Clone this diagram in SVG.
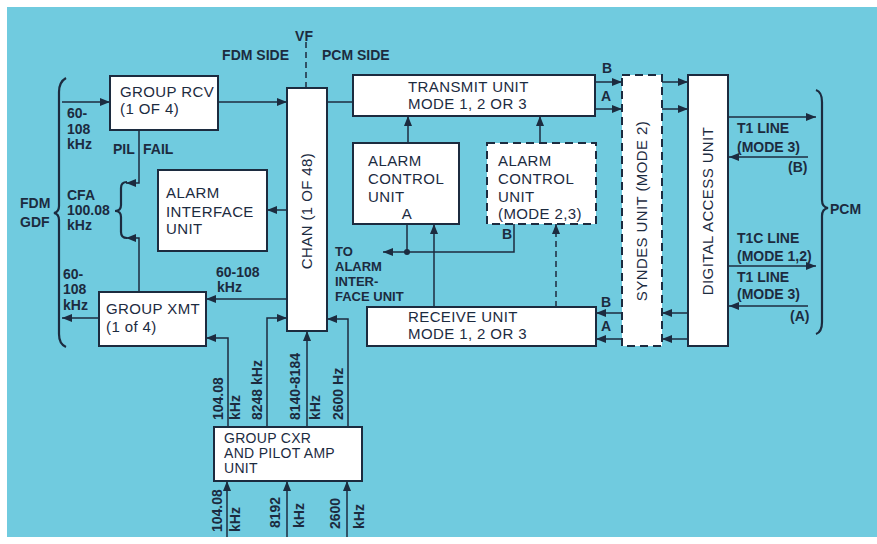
<svg xmlns="http://www.w3.org/2000/svg" width="877" height="544" viewBox="0 0 877 544">
<style>
.bg{fill:#70CBDF}
.box{fill:#fff;stroke:#1c2b3f;stroke-width:2}
.dbox{fill:#fff;stroke:#1c2b3f;stroke-width:2;stroke-dasharray:8 5}
.ln{fill:none;stroke:#1c2b3f;stroke-width:1.5}
.dl{fill:none;stroke:#1c2b3f;stroke-width:1.5;stroke-dasharray:6 4}
.br{fill:none;stroke:#1c2b3f;stroke-width:2.2}
text{font-family:"Liberation Sans",Arial,sans-serif;fill:#1c2b3f}
.t{font-size:15px;letter-spacing:0.4px}
.s{font-size:14px;letter-spacing:0.3px}
.l{font-size:14px;font-weight:bold}
.m{font-size:13px;font-weight:bold}
</style>
<defs>
<marker id="ar" markerWidth="10" markerHeight="8" refX="10" refY="4" orient="auto" markerUnits="userSpaceOnUse">
<path d="M0,0 L10,4 L0,8 Z" fill="#1c2b3f"/>
</marker>
</defs>
<rect x="0" y="0" width="877" height="544" fill="#fff"/>
<rect class="bg" x="7" y="7" width="870" height="530"/>

<g id="connectors">
<path class="dl" d="M306 42 V88"/>
<path class="ln" d="M62 102 H110" marker-end="url(#ar)"/>
<path class="ln" d="M218 102 H287" marker-end="url(#ar)"/>
<path class="ln" d="M328 102 H353"/>
<path class="ln" d="M595 82 H622" marker-end="url(#ar)"/>
<path class="ln" d="M595 109 H622" marker-end="url(#ar)"/>
<path class="ln" d="M662 82 H688" marker-end="url(#ar)"/>
<path class="ln" d="M662 109 H688" marker-end="url(#ar)"/>
<path class="ln" d="M728 117 H816" marker-end="url(#ar)"/>
<path class="ln" d="M808 157 H729" marker-end="url(#ar)"/>
<path class="ln" d="M728 266 H816" marker-end="url(#ar)"/>
<path class="ln" d="M808 306 H729" marker-end="url(#ar)"/>
<path class="ln" d="M688 313 H662" marker-end="url(#ar)"/>
<path class="ln" d="M688 339 H662" marker-end="url(#ar)"/>
<path class="ln" d="M622 313 H596" marker-end="url(#ar)"/>
<path class="ln" d="M622 339 H596" marker-end="url(#ar)"/>
<path class="ln" d="M408 143 V116" marker-end="url(#ar)"/>
<path class="ln" d="M540 143 V116" marker-end="url(#ar)"/>
<path class="ln" d="M434 307 V224" marker-end="url(#ar)"/>
<path class="dl" d="M556 307 V224" marker-end="url(#ar)"/>
<path class="ln" d="M407 224 V252"/>
<path class="ln" d="M514 224 V252 H383" marker-end="url(#ar)"/>
<circle cx="407" cy="252" r="3" fill="#1c2b3f"/>
<path class="ln" d="M287 210 H267" marker-end="url(#ar)"/>
<path class="ln" d="M287 299 H206" marker-end="url(#ar)"/>
<path class="ln" d="M99 318 H62" marker-end="url(#ar)"/>
<path class="ln" d="M139 130 V183 H126" marker-end="url(#ar)"/>
<path class="ln" d="M139 292 V238 H126" marker-end="url(#ar)"/>
<path class="ln" d="M228 427 V338 H206" marker-end="url(#ar)"/>
<path class="ln" d="M267 427 V318 H287" marker-end="url(#ar)"/>
<path class="ln" d="M307 427 V331" marker-end="url(#ar)"/>
<path class="ln" d="M348 427 V319 H327" marker-end="url(#ar)"/>
<path class="ln" d="M227 537 V481" marker-end="url(#ar)"/>
<path class="ln" d="M287 537 V481" marker-end="url(#ar)"/>
<path class="ln" d="M347 537 V481" marker-end="url(#ar)"/>
<path class="br" d="M127 182 Q121 182 121 188 V205 Q121 211 115 211 Q121 211 121 217 V232 Q121 238 127 238"/>
<path class="br" d="M66 78 Q59 82 59 92 V206 Q59 212 54 213 Q59 214 59 220 V334 Q59 344 66 347"/>
<path class="br" d="M816 90 Q822 92 822 102 V200 Q822 207 828 208 Q822 209 822 216 V322 Q822 332 816 334"/>
</g>

<g id="labels">
<text class="l" x="304" y="41" text-anchor="middle">VF</text>
<text class="l" x="289" y="60" text-anchor="end">FDM SIDE</text>
<text class="l" x="322" y="60">PCM SIDE</text>
<text class="l" x="67" y="118">60-</text>
<text class="l" x="67" y="134">108</text>
<text class="l" x="67" y="149">kHz</text>
<text class="l" x="113" y="154">PIL</text>
<text class="l" x="143" y="154">FAIL</text>
<text class="l" x="20" y="208">FDM</text>
<text class="l" x="20" y="227">GDF</text>
<text class="l" x="67" y="200">CFA</text>
<text class="l" x="67" y="215">100.08</text>
<text class="l" x="67" y="230">kHz</text>
<text class="l" x="63" y="279">60-</text>
<text class="l" x="63" y="294">108</text>
<text class="l" x="63" y="310">kHz</text>
<text class="l" x="216" y="277">60-108</text>
<text class="l" x="217" y="292">kHz</text>
<text class="m" x="335" y="256">TO</text>
<text class="m" x="335" y="271">ALARM</text>
<text class="m" x="335" y="286">INTER-</text>
<text class="m" x="335" y="301">FACE UNIT</text>
<text class="l" x="607" y="73" text-anchor="middle">B</text>
<text class="l" x="606" y="101" text-anchor="middle">A</text>
<text class="l" x="606" y="307" text-anchor="middle">B</text>
<text class="l" x="606" y="331" text-anchor="middle">A</text>
<text class="l" x="507" y="239" text-anchor="middle">B</text>
<text class="l" x="737" y="133">T1 LINE</text>
<text class="l" x="737" y="152">(MODE 3)</text>
<text class="l" x="788" y="172">(B)</text>
<text class="l" x="737" y="243">T1C LINE</text>
<text class="l" x="737" y="261">(MODE 1,2)</text>
<text class="l" x="737" y="282">T1 LINE</text>
<text class="l" x="737" y="299">(MODE 3)</text>
<text class="l" x="790" y="321">(A)</text>
<text class="l" x="830" y="214">PCM</text>
<text class="l" transform="translate(223,420) rotate(-90)">104.08</text>
<text class="l" transform="translate(240,420) rotate(-90)">kHz</text>
<text class="l" transform="translate(262,420) rotate(-90)">8248 kHz</text>
<text class="l" transform="translate(300,420) rotate(-90)">8140-8184</text>
<text class="l" transform="translate(320,420) rotate(-90)">kHz</text>
<text class="l" transform="translate(343,420) rotate(-90)">2600 Hz</text>
<text class="l" transform="translate(222,532) rotate(-90)">104.08</text>
<text class="l" transform="translate(240,532) rotate(-90)">kHz</text>
<text class="l" transform="translate(280,528) rotate(-90)">8192</text>
<text class="l" transform="translate(304,528) rotate(-90)">kHz</text>
<text class="l" transform="translate(340,529) rotate(-90)">2600</text>
<text class="l" transform="translate(364,529) rotate(-90)">kHz</text>
</g>

<g id="group-rcv">
<rect class="box" x="110" y="76" width="108" height="54"/>
<text class="t" x="120" y="97">GROUP RCV</text>
<text class="t" x="120" y="114">(1 OF 4)</text>
</g>
<g id="chan">
<rect class="box" x="287" y="88" width="40" height="243"/>
<text class="t" transform="translate(312,211) rotate(-90)" text-anchor="middle">CHAN (1 OF 48)</text>
</g>
<g id="transmit-unit">
<rect class="box" x="353" y="75" width="242" height="41"/>
<text class="t" x="408" y="92">TRANSMIT UNIT</text>
<text class="t" x="408" y="109">MODE 1, 2 OR 3</text>
</g>
<g id="syndes-unit">
<rect class="dbox" x="622" y="75" width="40" height="271"/>
<text class="t" transform="translate(647,211) rotate(-90)" text-anchor="middle">SYNDES UNIT (MODE 2)</text>
</g>
<g id="digital-access-unit">
<rect class="box" x="688" y="75" width="40" height="271"/>
<text class="t" transform="translate(713,211) rotate(-90)" text-anchor="middle">DIGITAL ACCESS UNIT</text>
</g>
<g id="alarm-control-a">
<rect class="box" x="353" y="143" width="106" height="81"/>
<text class="t" x="368" y="166">ALARM</text>
<text class="t" x="368" y="184">CONTROL</text>
<text class="t" x="368" y="202">UNIT</text>
<text class="t" x="407" y="219" text-anchor="middle">A</text>
</g>
<g id="alarm-control-mode23">
<rect class="dbox" x="487" y="143" width="109" height="81"/>
<text class="t" x="498" y="166">ALARM</text>
<text class="t" x="498" y="184">CONTROL</text>
<text class="t" x="498" y="202">UNIT</text>
<text class="t" x="498" y="219">(MODE 2,3)</text>
</g>
<g id="alarm-interface-unit">
<rect class="box" x="158" y="170" width="109" height="81"/>
<text class="t" x="166" y="198">ALARM</text>
<text class="t" x="166" y="217">INTERFACE</text>
<text class="t" x="166" y="234">UNIT</text>
</g>
<g id="group-xmt">
<rect class="box" x="99" y="292" width="107" height="54"/>
<text class="t" x="106" y="314">GROUP XMT</text>
<text class="t" x="106" y="332">(1 of 4)</text>
</g>
<g id="receive-unit">
<rect class="box" x="367" y="307" width="229" height="39"/>
<text class="t" x="408" y="322">RECEIVE UNIT</text>
<text class="t" x="408" y="339">MODE 1, 2 OR 3</text>
</g>
<g id="group-cxr">
<rect class="box" x="214" y="427" width="148" height="54"/>
<text class="s" x="224" y="443">GROUP CXR</text>
<text class="s" x="224" y="458">AND PILOT AMP</text>
<text class="s" x="224" y="473">UNIT</text>
</g>
</svg>
